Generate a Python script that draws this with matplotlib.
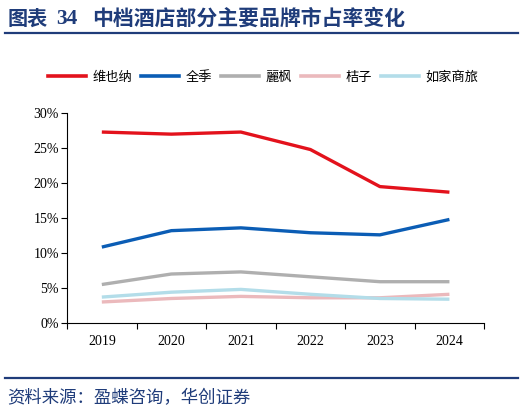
import matplotlib

matplotlib.use("Agg")

import matplotlib.pyplot as plt  # noqa: E402
from matplotlib.lines import Line2D  # noqa: E402
from matplotlib.ticker import FixedLocator, PercentFormatter  # noqa: E402

# 数据(读图估计,单位 %)
years = ["2019", "2020", "2021", "2022", "2023", "2024"]
brands = ["维也纳", "全季", "麗枫", "桔子", "如家商旅"]
vienna = [27.3, 27.0, 27.3, 24.8, 19.5, 18.7]
ji = [10.85, 13.2, 13.6, 12.9, 12.6, 14.8]
lavande = [5.5, 7.0, 7.3, 6.6, 5.9, 5.9]
orange = [3.0, 3.5, 3.8, 3.6, 3.6, 4.1]
homeinn = [3.7, 4.4, 4.8, 4.1, 3.5, 3.4]
y_ticks = [0, 5, 10, 15, 20, 25, 30]

colors = ["#E3121C", "#0B5DB5", "#AFAFAF", "#EBB9BC", "#B3DDE9"]
series = [vienna, ji, lavande, orange, homeinn]

TITLE_BLUE = "#1F3C7A"
SERIF = ["Liberation Serif", "Noto Sans CJK SC"]
CJK = ["Noto Sans CJK SC", "DejaVu Sans"]

fig = plt.figure(figsize=(5.24, 4.13), dpi=100)
ax = fig.add_axes([0.128, 0.218, 0.796, 0.508])

x = list(range(len(years)))
# 画线顺序:淡色在下
for idx in [2, 3, 4, 1, 0]:
    ax.plot(x, series[idx], color=colors[idx], lw=2.4, solid_capstyle="butt",
            solid_joinstyle="round", zorder=3 + (idx < 2))

ax.set_xlim(-0.5, len(years) - 0.5)
ax.set_ylim(0, 30)
ax.set_yticks(y_ticks)
ax.yaxis.set_major_formatter(PercentFormatter(decimals=0))

ax.xaxis.set_major_locator(FixedLocator([i - 0.5 for i in range(len(years) + 1)]))
ax.xaxis.set_minor_locator(FixedLocator(x))
ax.set_xticklabels([])
ax.set_xticks(x, years, minor=True)
ax.tick_params(axis="x", which="major", length=4, width=0.8, direction="out")
ax.tick_params(axis="x", which="minor", length=0, pad=9)
ax.tick_params(axis="y", length=4, width=0.8, direction="out", pad=2)
for lab in ax.get_xticklabels(minor=True) + ax.get_yticklabels():
    lab.set_family(SERIF)
    lab.set_fontsize(10)

for s in ["top", "right"]:
    ax.spines[s].set_visible(False)
for s in ["left", "bottom"]:
    ax.spines[s].set_linewidth(0.8)

handles = [Line2D([], [], color=c, lw=2.6) for c in colors]
leg = fig.legend(handles, brands, loc="center", bbox_to_anchor=(0.502, 0.813),
                 ncol=5, frameon=False, handlelength=2.9, handletextpad=0.45,
                 columnspacing=0.7, prop={"family": CJK, "size": 9.5})

# 标题与分隔线
fig.text(0.014, 0.957, "图表", color=TITLE_BLUE, fontsize=14.5,
         fontweight="bold", family=CJK, va="center", ha="left")
fig.text(0.108, 0.955, "34", color=TITLE_BLUE, fontsize=15.5,
         fontweight="bold", family=SERIF, va="center", ha="left")
fig.text(0.176, 0.957, "中档酒店部分主要品牌市占率变化", color=TITLE_BLUE,
         fontsize=15, fontweight="bold", family=CJK, va="center", ha="left")
fig.add_artist(Line2D([0.01, 0.988], [0.919, 0.919], color=TITLE_BLUE, lw=1.6))
fig.add_artist(Line2D([0.01, 0.988], [0.085, 0.085], color=TITLE_BLUE, lw=1.6))
fig.text(0.014, 0.036, "资料来源：盈蝶咨询，华创证券", color=TITLE_BLUE,
         fontsize=12.5, style="italic", family=CJK, va="center", ha="left")

fig.savefig("out.png", dpi=100)
